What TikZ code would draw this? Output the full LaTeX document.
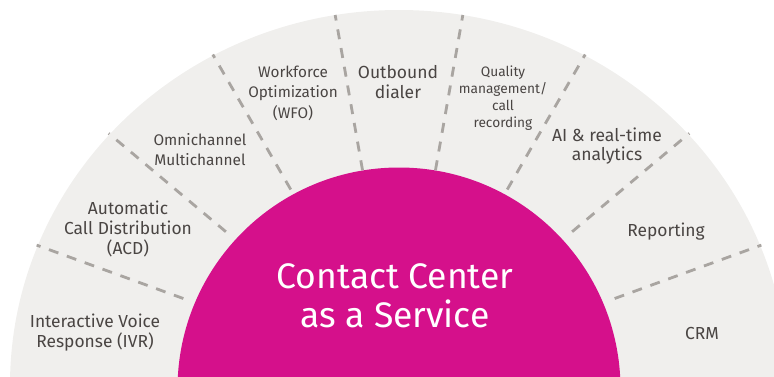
\documentclass[tikz,border=0pt]{standalone}
\usepackage{fontspec}
\setmainfont{Fira Sans}
\definecolor{ringgray}{HTML}{F0EFED}
\definecolor{hubmagenta}{HTML}{D5108B}
\definecolor{dashgray}{HTML}{A9A5A1}
\definecolor{labeltext}{HTML}{4A4543}
\begin{document}
\begin{tikzpicture}[x=1pt,y=1pt,
  divider/.style={draw=dashgray, line width=2.8pt, dash pattern=on 10pt off 9pt},
  sector/.style={text=labeltext, align=center, font=\fontsize{17.4}{20}\selectfont},
  smallsector/.style={sector, font=\fontsize{13.7}{17}\selectfont},
  hub/.style={text=white, align=center, font=\fontsize{35.5}{39}\selectfont}]
\useasboundingbox (0,0) rectangle (774,376);
% outer ring and central half disc
\begin{scope}
  \clip (0,0) rectangle (774,376);
  \fill[ringgray] (399,-9) ellipse [x radius=389, y radius=375];
  \fill[hubmagenta] (399,-13) circle [radius=221.5];
\end{scope}
% radial dividers between the sectors
\coordinate (O) at (399,-1);
\foreach \a/\ri/\ro in {20/229.5/385.6, 40/226/379, 60/216.5/372.4, 80/210/367.6,
                        100/210/367.6, 120/216.5/372.4, 140/226/379, 160/229.5/385.6}
  \draw[divider, shift={(O)}] (\a:\ri) -- (\a:\ro);
% sector labels
\node[sector] (ivr) at (95,43) {Interactive Voice\\Response (IVR)};
\node[sector] (acd) at (128,147) {Automatic\\Call Distribution\\(ACD)};
\node[sector, font=\fontsize{15.4}{20}\selectfont] (omni) at (200,226) {Omnichannel\\Multichannel};
\node[sector, font=\fontsize{15.3}{20.5}\selectfont] (wfo) at (293,283) {Workforce\\Optimization\\(WFO)};
\node[sector, font=\fontsize{17.5}{20}\selectfont] (outb) at (398,294) {Outbound\\dialer};
\node[smallsector] (qm) at (503,278) {Quality\\management/\\call\\recording};
\node[sector, font=\fontsize{17.5}{19}\selectfont] (ai) at (607,230) {AI \& real-time\\analytics};
\node[sector] (rep) at (666,144) {Reporting};
\node[sector] (crm) at (702,42) {CRM};
% central title
\node[hub] (ccaas) at (395,80) {Contact Center\\as a Service};
\end{tikzpicture}
\end{document}
